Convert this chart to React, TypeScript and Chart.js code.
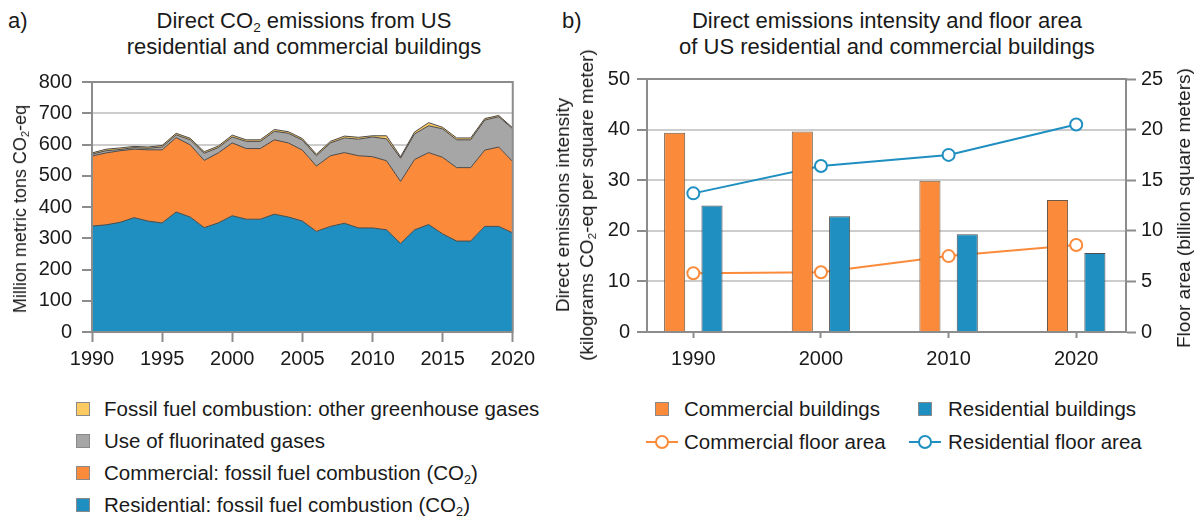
import React, { useEffect, useRef } from "react";
import { Chart, registerables } from "chart.js";

Chart.register(...registerables);

// ---------- Panel a) data ----------
const years = [
  1990, 1991, 1992, 1993, 1994, 1995, 1996, 1997, 1998, 1999, 2000,
  2001, 2002, 2003, 2004, 2005, 2006, 2007, 2008, 2009, 2010,
  2011, 2012, 2013, 2014, 2015, 2016, 2017, 2018, 2019, 2020,
];
const residentialCO2 = [
  339, 343, 351, 366, 355, 349, 384, 368, 334, 349, 372,
  361, 361, 377, 368, 355, 322, 338, 348, 333, 333,
  327, 283, 327, 344, 314, 291, 291, 338, 338, 317,
];
const commercialCO2 = [
  224, 230, 229, 219, 228, 234, 238, 231, 215, 224, 233,
  226, 226, 238, 237, 227, 209, 226, 226, 231, 228,
  221, 199, 225, 230, 245, 235, 235, 244, 254, 228,
];
const fluorinatedGases = [
  6, 7, 4, 5, 5, 9, 9, 16, 23, 17, 19,
  23, 23, 27, 31, 32, 33, 41, 47, 53, 63,
  70, 74, 82, 86, 91, 89, 89, 96, 97, 105,
];
const otherGHG = [
  4, 5, 5, 4, 4, 5, 5, 5, 5, 5, 6,
  5, 5, 6, 5, 5, 5, 5, 6, 6, 4,
  10, 5, 6, 10, 5, 6, 6, 5, 4, 3,
];
const yearTicksA = [1990, 1995, 2000, 2005, 2010, 2015, 2020];

// ---------- Panel b) data ----------
const decadeYears = [1990, 2000, 2010, 2020];
const commercialIntensity = [39.4, 39.6, 29.9, 26.1];
const residentialIntensity = [25.0, 22.9, 19.3, 15.6];
const commercialFloorArea = [5.8, 5.9, 7.5, 8.6];
const residentialFloorArea = [13.7, 16.4, 17.5, 20.5];

// ---------- styles ----------
const BLUE = "#1e8fc0";
const ORANGE = "#fb8b3b";
const GRAY = "#a6a6a6";
const YELLOW = "#fdca62";
const AXIS = "#8c8c8c";
const GRID = "#cdcdcd";
const TEXT = "#1a1a1a";
const FONT = '"Liberation Sans", Arial, Helvetica, sans-serif';

const framePlugin = {
  id: "frame",
  afterDatasetsDraw(chart: any, _args: any, opts: any) {
    const { ctx, chartArea } = chart;
    const { left, right, top, bottom } = chartArea;
    ctx.save();
    ctx.strokeStyle = AXIS;
    ctx.lineWidth = 2;
    ctx.beginPath();
    ctx.moveTo(left - 1, top);
    ctx.lineTo(right, top);
    if (opts && opts.right) ctx.lineTo(right, bottom + 1);
    ctx.stroke();
    ctx.restore();
  },
};

const tickFont = { family: FONT, size: 20 };

function pts(xs: number[], ys: number[]) {
  return xs.map((x, i) => ({ x, y: ys[i] }));
}

const sub = (t: string) => (
  <sub style={{ fontSize: "0.62em", verticalAlign: "-0.28em", lineHeight: 0 }}>{t}</sub>
);

export default function App() {
  const refA = useRef<HTMLCanvasElement>(null);
  const refB = useRef<HTMLCanvasElement>(null);

  useEffect(() => {
    const areaDs = (label: string, data: number[], color: string, fill: any) => ({
      label,
      data: pts(years, data),
      backgroundColor: color,
      borderColor: "#4a4a4a",
      borderWidth: 1,
      fill,
      pointRadius: 0,
      tension: 0,
    });
    const chartA = new Chart(refA.current as HTMLCanvasElement, {
      type: "line",
      data: {
        datasets: [
          areaDs("Residential: fossil fuel combustion (CO₂)", residentialCO2, BLUE, "origin"),
          areaDs("Commercial: fossil fuel combustion (CO₂)", commercialCO2, ORANGE, "-1"),
          areaDs("Use of fluorinated gases", fluorinatedGases, GRAY, "-1"),
          areaDs("Fossil fuel combustion: other greenhouse gases", otherGHG, YELLOW, "-1"),
        ],
      },
      options: {
        animation: false,
        responsive: false,
        devicePixelRatio: 1,
        layout: { padding: { top: 17, right: 24, left: 0, bottom: 0 } },
        plugins: {
          legend: { display: false },
          tooltip: { enabled: false },
          frame: { right: true },
        } as any,
        scales: {
          x: {
            type: "linear",
            min: 1990,
            max: 2020,
            afterBuildTicks: (s: any) => {
              s.ticks = yearTicksA.map((v) => ({ value: v }));
            },
            afterFit: (s: any) => {
              s.height = 48;
            },
            grid: {
              drawOnChartArea: false,
              drawTicks: true,
              tickLength: 10,
              tickColor: AXIS,
              tickWidth: 2,
            },
            border: { color: AXIS, width: 2, z: 1 } as any,
            ticks: {
              font: tickFont,
              color: TEXT,
              padding: 5,
              maxRotation: 0,
              autoSkip: false,
              callback: (v: any) => String(v),
            },
          },
          y: {
            stacked: true,
            min: 0,
            max: 800,
            afterFit: (s: any) => {
              s.width = 92;
            },
            grid: {
              color: GRID,
              lineWidth: 2,
              tickColor: AXIS,
              tickWidth: 2,
              tickLength: 10,
            },
            border: { color: AXIS, width: 2, z: 1 } as any,
            ticks: {
              stepSize: 100,
              font: tickFont,
              color: TEXT,
              padding: 10,
            },
          },
        },
      },
      plugins: [framePlugin],
    });

    const chartB = new Chart(refB.current as HTMLCanvasElement, {
      type: "bar",
      data: {
        datasets: [
          {
            type: "bar",
            label: "Commercial buildings",
            data: pts(decadeYears, commercialIntensity),
            backgroundColor: ORANGE,
            borderColor: "#6b5a4a",
            borderWidth: 1,
            yAxisID: "y",
            order: 0,
            categoryPercentage: 0.585,
            barPercentage: 0.565,
          },
          {
            type: "bar",
            label: "Residential buildings",
            data: pts(decadeYears, residentialIntensity),
            backgroundColor: BLUE,
            borderColor: "#4d4d4d",
            borderWidth: 1,
            yAxisID: "y",
            order: 0,
            categoryPercentage: 0.585,
            barPercentage: 0.565,
          },
          {
            type: "line",
            label: "Commercial floor area",
            data: pts(decadeYears, commercialFloorArea),
            yAxisID: "y1",
            borderColor: ORANGE,
            borderWidth: 2,
            pointRadius: 6,
            pointBackgroundColor: "#ffffff",
            pointBorderColor: ORANGE,
            pointBorderWidth: 2,
            order: 1,
          },
          {
            type: "line",
            label: "Residential floor area",
            data: pts(decadeYears, residentialFloorArea),
            yAxisID: "y1",
            borderColor: BLUE,
            borderWidth: 2,
            pointRadius: 6,
            pointBackgroundColor: "#ffffff",
            pointBorderColor: BLUE,
            pointBorderWidth: 2,
            order: 1,
          },
        ] as any,
      },
      options: {
        animation: false,
        responsive: false,
        devicePixelRatio: 1,
        layout: { padding: { top: 17, right: 0, left: 0, bottom: 0 } },
        plugins: {
          legend: { display: false },
          tooltip: { enabled: false },
          frame: { right: false },
        } as any,
        scales: {
          x: {
            type: "linear",
            min: 1986.37,
            max: 2023.9,
            offset: false,
            afterBuildTicks: (s: any) => {
              s.ticks = decadeYears.map((v) => ({ value: v }));
            },
            afterFit: (s: any) => {
              s.height = 48;
            },
            grid: {
              offset: false,
              drawOnChartArea: false,
              drawTicks: true,
              tickLength: 6,
              tickColor: AXIS,
              tickWidth: 2,
            },
            border: { color: AXIS, width: 2, z: 1 } as any,
            ticks: {
              font: tickFont,
              color: TEXT,
              padding: 9,
              maxRotation: 0,
              autoSkip: false,
              callback: (v: any) => String(v),
            },
          },
          y: {
            position: "left",
            min: 0,
            max: 50,
            afterFit: (s: any) => {
              s.width = 107;
            },
            grid: {
              color: GRID,
              lineWidth: 2,
              tickColor: AXIS,
              tickWidth: 2,
              tickLength: 10,
            },
            border: { color: AXIS, width: 2, z: 1 } as any,
            ticks: { stepSize: 10, font: tickFont, color: TEXT, padding: 7 },
          },
          y1: {
            position: "right",
            min: 0,
            max: 25,
            afterFit: (s: any) => {
              s.width = 68;
            },
            grid: {
              drawOnChartArea: false,
              tickColor: AXIS,
              tickWidth: 2,
              tickLength: 10,
            },
            border: { color: AXIS, width: 2, z: 1 } as any,
            ticks: { stepSize: 5, font: tickFont, color: TEXT, padding: 5 },
          },
        },
      } as any,
      plugins: [framePlugin],
    });

    return () => {
      chartA.destroy();
      chartB.destroy();
    };
  }, []);

  const abs = (s: React.CSSProperties): React.CSSProperties => ({ position: "absolute", ...s });
  const rot = (cx: number, cy: number, s: React.CSSProperties = {}): React.CSSProperties => ({
    position: "absolute",
    left: cx,
    top: cy,
    transform: "translate(-50%, -50%) rotate(-90deg)",
    whiteSpace: "nowrap",
    textAlign: "center",
    ...s,
  });
  const square = (x: number, yc: number, color: string): React.CSSProperties => ({
    position: "absolute",
    left: x,
    top: yc - 7,
    width: 14,
    height: 14,
    background: color,
    border: "1px solid #8a8a8a",
    boxSizing: "border-box",
  });
  const legendText = (x: number, yc: number): React.CSSProperties => ({
    position: "absolute",
    left: x,
    top: yc - 12,
    fontSize: 20.5,
    lineHeight: "24px",
    whiteSpace: "nowrap",
  });
  const lineIcon = (x: number, yc: number, color: string) => (
    <svg
      style={{ position: "absolute", left: x, top: yc - 8 }}
      width={32}
      height={16}
      viewBox="0 0 32 16"
    >
      <line x1={0} y1={8} x2={32} y2={8} stroke={color} strokeWidth={2} />
      <circle cx={16} cy={8} r={6} fill="#ffffff" stroke={color} strokeWidth={2} />
    </svg>
  );

  const legA = [
    { label: "Fossil fuel combustion: other greenhouse gases", color: YELLOW, co2: false },
    { label: "Use of fluorinated gases", color: GRAY, co2: false },
    { label: "Commercial: fossil fuel combustion (CO", color: ORANGE, co2: true },
    { label: "Residential: fossil fuel combustion (CO", color: BLUE, co2: true },
  ];
  const legARows = [409, 441, 473, 505];

  return (
    <div
      style={{
        position: "absolute",
        left: 0,
        top: 0,
        width: 1194,
        height: 520,
        background: "#ffffff",
        fontFamily: FONT,
        color: TEXT,
        overflow: "hidden",
      }}
    >
      <canvas
        ref={refA}
        width={540}
        height={320}
        style={{ position: "absolute", left: 0, top: 60, width: 540, height: 320 }}
      />
      <canvas
        ref={refB}
        width={654}
        height={320}
        style={{ position: "absolute", left: 540, top: 60, width: 654, height: 320 }}
      />

      {/* Panel a text */}
      <div style={abs({ left: 8, top: 8, fontSize: 22, lineHeight: "26px" })}>a)</div>
      <div
        style={abs({
          left: 304 - 260,
          width: 520,
          top: 8,
          fontSize: 22,
          lineHeight: "26px",
          textAlign: "center",
        })}
      >
        Direct CO{sub("2")} emissions from US
        <br />
        residential and commercial buildings
      </div>
      <div style={rot(20, 209, { fontSize: 18, lineHeight: "22px" })}>
        Million metric tons CO{sub("2")}-eq
      </div>

      {legA.map((it, i) => (
        <React.Fragment key={it.label}>
          <div style={square(76, legARows[i], it.color)} />
          <div style={legendText(104, legARows[i])}>
            {it.label}
            {it.co2 ? (
              <>
                {sub("2")})
              </>
            ) : null}
          </div>
        </React.Fragment>
      ))}

      {/* Panel b text */}
      <div style={abs({ left: 562, top: 8, fontSize: 22, lineHeight: "26px" })}>b)</div>
      <div
        style={abs({
          left: 887 - 280,
          width: 560,
          top: 8,
          fontSize: 22,
          lineHeight: "26px",
          textAlign: "center",
        })}
      >
        Direct emissions intensity and floor area
        <br />
        of US residential and commercial buildings
      </div>
      <div style={rot(575, 205, { fontSize: 19, lineHeight: "24px" })}>
        Direct emissions intensity
        <br />
        (kilograms CO{sub("2")}-eq per square meter)
      </div>
      <div style={rot(1184, 208, { fontSize: 19, lineHeight: "22px" })}>
        Floor area (billion square meters)
      </div>

      <div style={square(655, 409, ORANGE)} />
      <div style={legendText(684, 409)}>Commercial buildings</div>
      <div style={square(918, 409, BLUE)} />
      <div style={legendText(948, 409)}>Residential buildings</div>
      {lineIcon(646, 442, ORANGE)}
      <div style={legendText(684, 442)}>Commercial floor area</div>
      {lineIcon(909, 442, BLUE)}
      <div style={legendText(948, 442)}>Residential floor area</div>
    </div>
  );
}
